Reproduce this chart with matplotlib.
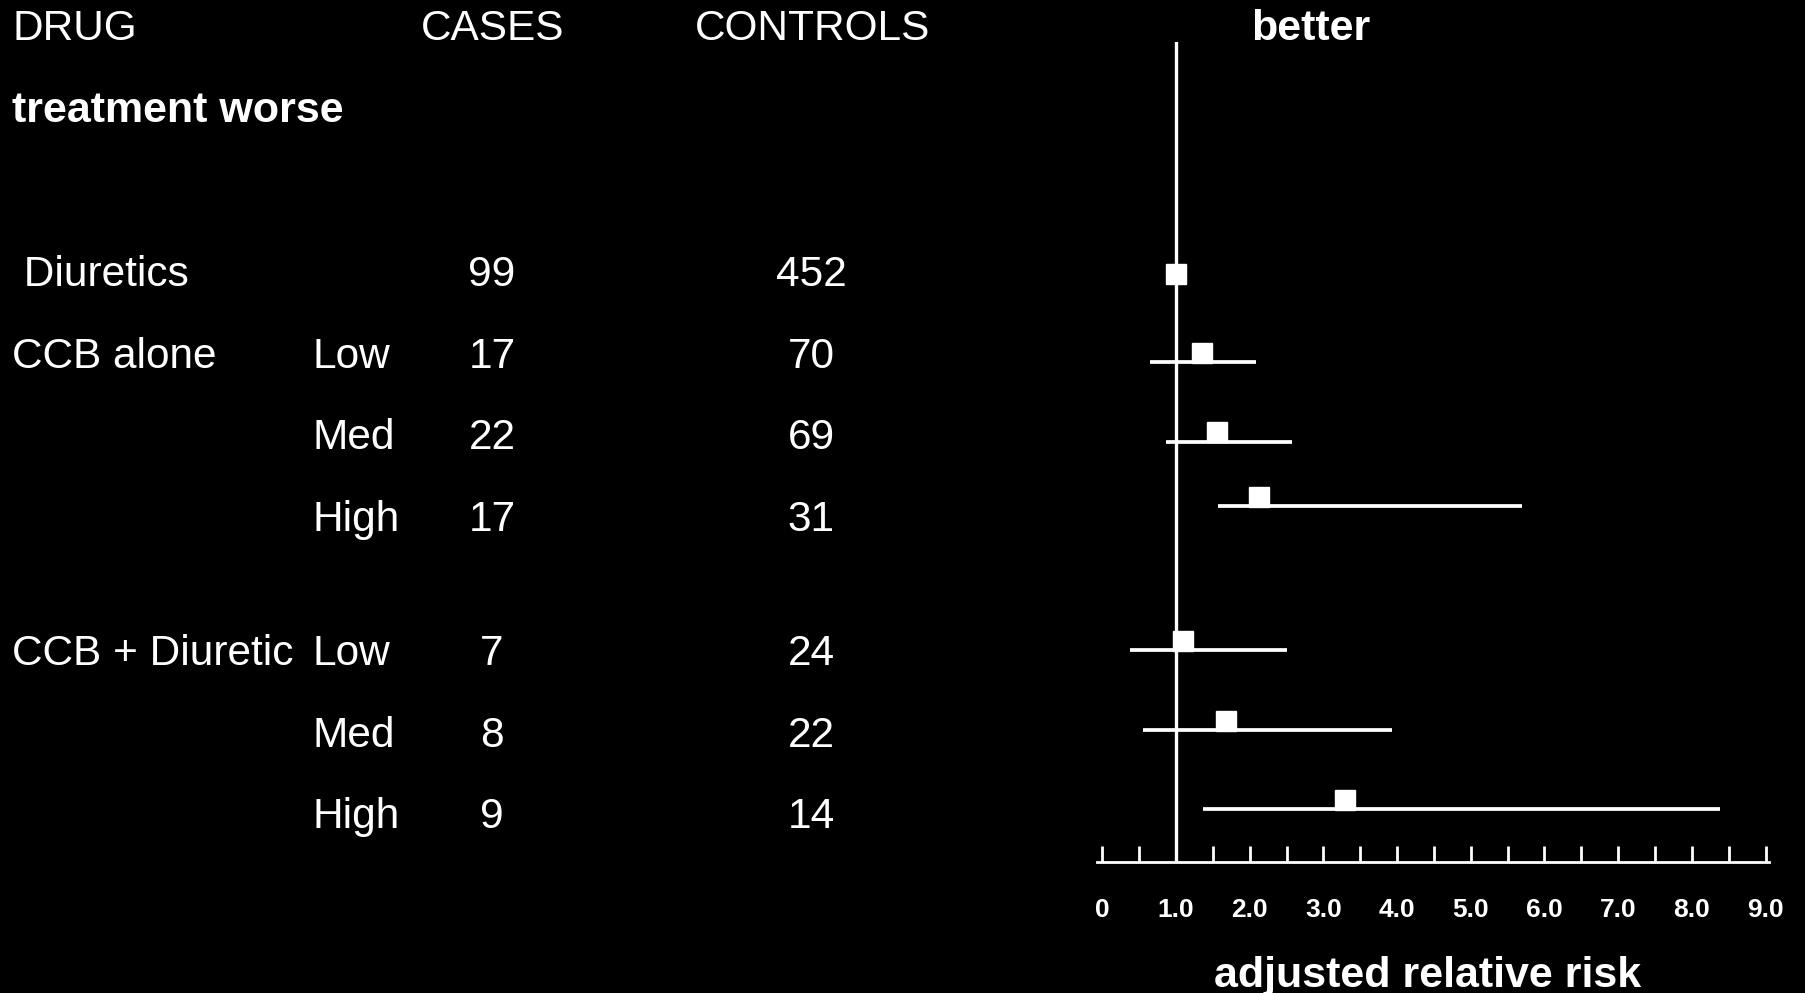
import matplotlib
matplotlib.use("Agg")
import matplotlib.pyplot as plt
import matplotlib.transforms as mtransforms
import numpy as np

plt.rcParams['font.family'] = ['Liberation Sans', 'DejaVu Sans']

# table columns
drugs = [' Diuretics', 'CCB alone', '', '', 'CCB + Diuretic', '', '']
doses = ['', 'Low', 'Med', 'High', 'Low', 'Med', 'High']
cases = [99, 17, 22, 17, 7, 8, 9]
controls = [452, 70, 69, 31, 24, 22, 14]
table_rows = [0, 1, 2, 3, 4.65, 5.65, 6.65]

# adjusted relative risk with 95% CI (no interval shown for the reference group)
rr = [1.0, 1.35, 1.55, 2.13, 1.09, 1.68, 3.29]
ci_low = [None, 0.65, 0.87, 1.57, 0.38, 0.55, 1.36]
ci_high = [None, 2.09, 2.58, 5.70, 2.50, 3.93, 8.38]
forest_rows = [0.13, 1.1, 2.08, 2.87, 4.64, 5.62, 6.59]

tick_vals = np.arange(0, 9.01, 0.5)
tick_labels = ['0' if v == 0 else ('%.1f' % v if v == int(v) else '') for v in tick_vals]

W, H = 1805, 993
fig = plt.figure(figsize=(W / 100, H / 100), dpi=100, facecolor='black')
ax = fig.add_axes([1097 / W, (H - 862) / H, 671.5 / W, 820 / H])
ax.set_facecolor('black')
ax.set_xlim(-0.072, 9.04)
ax.set_ylim(7.239, -2.822)

for s in ['left', 'right', 'top']:
    ax.spines[s].set_visible(False)
ax.spines['bottom'].set_color('white')
ax.spines['bottom'].set_linewidth(2.0)
ax.set_yticks([])
ax.set_xticks(tick_vals)
ax.set_xticklabels(tick_labels, fontsize=19, fontweight='bold', color='white')
ax.tick_params(axis='x', direction='in', length=11.5, width=2.0, colors='white', pad=26)

ax.axvline(1.0, color='white', lw=2.4, zorder=1)

# squares sit just on top of their interval line
sq_trans = mtransforms.offset_copy(ax.transData, fig=fig, y=6.5, units='points')
for y, r, lo, hi in zip(forest_rows, rr, ci_low, ci_high):
    if lo is not None:
        ax.plot([lo, hi], [y, y], color='white', lw=2.7, solid_capstyle='butt', zorder=2)
    ax.plot([r], [y], marker='s', markersize=14, color='white', transform=sq_trans,
            clip_on=False, zorder=3)

# table text: x in figure fraction, y in the same row units as the forest
row_trans = mtransforms.offset_copy(
    mtransforms.blended_transform_factory(fig.transFigure, ax.transData),
    fig=fig, y=-10.4, units='points')
txt = dict(color='white', fontsize=30.5, va='baseline', transform=row_trans)
for y, d, dose, c, k in zip(table_rows, drugs, doses, cases, controls):
    fig.text(12 / W, y, d, ha='left', **txt)
    fig.text(313 / W, y, dose, ha='left', **txt)
    fig.text(492 / W, y, str(c), ha='center', **txt)
    fig.text(811 / W, y, str(k), ha='center', **txt)

hdr = dict(color='white', va='baseline')
fig.text(12 / W, 1 - 39.5 / H, 'DRUG', ha='left', fontsize=30.5, **hdr)
fig.text(421 / W, 1 - 39.5 / H, 'CASES', ha='left', fontsize=30.5, **hdr)
fig.text(695 / W, 1 - 39.5 / H, 'CONTROLS', ha='left', fontsize=30.5, **hdr)
fig.text(1311 / W, 1 - 39.5 / H, 'better', ha='center', fontsize=31, fontweight='bold', **hdr)
fig.text(12 / W, 1 - 122 / H, 'treatment worse', ha='left', fontsize=31, fontweight='bold', **hdr)
fig.text(1428 / W, 1 - 987 / H, 'adjusted relative risk', ha='center', fontsize=31,
         fontweight='bold', **hdr)

fig.savefig('out.png', dpi=100, facecolor='black')
